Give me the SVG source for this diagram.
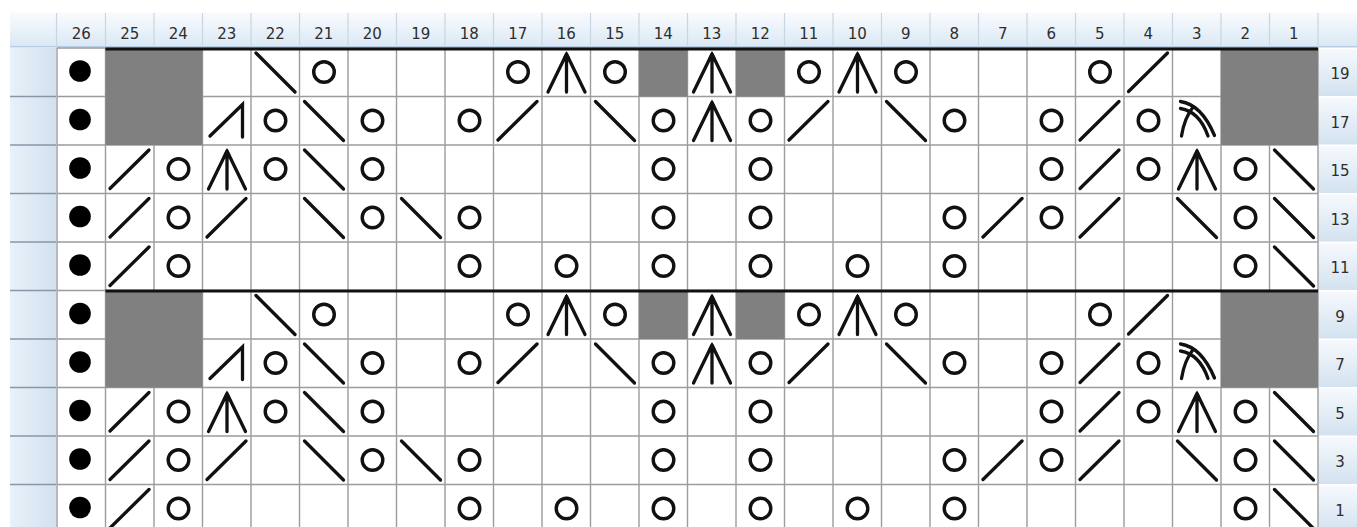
<svg xmlns="http://www.w3.org/2000/svg" xmlns:xlink="http://www.w3.org/1999/xlink" width="1357" height="527" viewBox="0 0 1357 527">
<style>
.grid{stroke:#9c9c9c;stroke-width:1.4;fill:none}
.hsep{stroke:#c9d5e1;stroke-width:1.2}
.lsep{stroke:#8797a8;stroke-width:1.5}
.s{stroke:#111;stroke-width:3.3;stroke-linecap:round;fill:none}
.o{stroke:#111;stroke-width:3.4;fill:none}
.dot{fill:#000}
.gray{fill:#808080}
.thick{stroke:#111;stroke-width:3.2}
.hd{font-family:"DejaVu Sans",sans-serif;font-size:15px;fill:#2e2e2e;text-anchor:middle}
</style>
<defs>
<linearGradient id="hg" x1="0" y1="0" x2="0" y2="1">
<stop offset="0" stop-color="#fafcfe"/><stop offset="1" stop-color="#d9e7f4"/>
</linearGradient>
<linearGradient id="lg" x1="0" y1="0" x2="1" y2="0">
<stop offset="0" stop-color="#e9f1f9"/><stop offset="1" stop-color="#d2e1ef"/>
</linearGradient>
<linearGradient id="rg" x1="0" y1="0" x2="0" y2="1">
<stop offset="0" stop-color="#f6f9fd"/><stop offset="1" stop-color="#d3e2f0"/>
</linearGradient>
<g id="dot"><circle class="dot" cx="23" cy="23" r="10.8"/></g>
<g id="o"><circle class="o" cx="24.5" cy="24" r="10.3"/></g>
<g id="sl"><line class="s" x1="4.5" y1="43.5" x2="43.5" y2="5"/></g>
<g id="bs"><line class="s" x1="5" y1="5" x2="44" y2="44"/></g>
<g id="t3"><path class="s" d="M24.5 6 L6 44 M24.5 6 L24.5 44 M24.5 6 L43 44"/><path d="M24.5 3 L21 10 L28 10 Z" fill="#111"/></g>
<g id="k2"><path class="s" d="M7.5 39.5 L40 8 L40 40.5"/></g>
<g id="arc"><path class="s" d="M8 5 Q29 8 42 39 M8 12 Q27 15 35.5 39.5 M9 39.5 Q12 21 21 10"/></g>
<g id="patA">
<use xlink:href="#dot" x="57"/><use xlink:href="#bs" x="251"/><use xlink:href="#o" x="299.5"/>
<use xlink:href="#o" x="493.5"/><use xlink:href="#t3" x="542"/><use xlink:href="#o" x="590.5"/>
<use xlink:href="#t3" x="687.5"/><use xlink:href="#o" x="784.5"/><use xlink:href="#t3" x="833"/><use xlink:href="#o" x="881.5"/>
<use xlink:href="#o" x="1075.5"/><use xlink:href="#sl" x="1124"/>
</g>
<g id="patB">
<use xlink:href="#dot" x="57"/><use xlink:href="#k2" x="202.5"/><use xlink:href="#o" x="251"/><use xlink:href="#bs" x="299.5"/><use xlink:href="#o" x="348"/>
<use xlink:href="#o" x="445"/><use xlink:href="#sl" x="493.5"/><use xlink:href="#bs" x="590.5"/><use xlink:href="#o" x="639"/>
<use xlink:href="#t3" x="687.5"/><use xlink:href="#o" x="736"/><use xlink:href="#sl" x="784.5"/><use xlink:href="#bs" x="881.5"/>
<use xlink:href="#o" x="930"/><use xlink:href="#o" x="1027"/><use xlink:href="#sl" x="1075.5"/><use xlink:href="#o" x="1124"/><use xlink:href="#arc" x="1172.5"/>
</g>
<g id="patC">
<use xlink:href="#dot" x="57"/><use xlink:href="#sl" x="105.5"/><use xlink:href="#o" x="154"/><use xlink:href="#t3" x="202.5"/><use xlink:href="#o" x="251"/>
<use xlink:href="#bs" x="299.5"/><use xlink:href="#o" x="348"/><use xlink:href="#o" x="639"/><use xlink:href="#o" x="736"/>
<use xlink:href="#o" x="1027"/><use xlink:href="#sl" x="1075.5"/><use xlink:href="#o" x="1124"/><use xlink:href="#t3" x="1172.5"/>
<use xlink:href="#o" x="1221"/><use xlink:href="#bs" x="1269.5"/>
</g>
<g id="patD">
<use xlink:href="#dot" x="57"/><use xlink:href="#sl" x="105.5"/><use xlink:href="#o" x="154"/><use xlink:href="#sl" x="202.5"/>
<use xlink:href="#bs" x="299.5"/><use xlink:href="#o" x="348"/><use xlink:href="#bs" x="396.5"/><use xlink:href="#o" x="445"/>
<use xlink:href="#o" x="639"/><use xlink:href="#o" x="736"/><use xlink:href="#o" x="930"/><use xlink:href="#sl" x="978.5"/>
<use xlink:href="#o" x="1027"/><use xlink:href="#sl" x="1075.5"/><use xlink:href="#bs" x="1172.5"/><use xlink:href="#o" x="1221"/><use xlink:href="#bs" x="1269.5"/>
</g>
<g id="patE">
<use xlink:href="#dot" x="57"/><use xlink:href="#sl" x="105.5"/><use xlink:href="#o" x="154"/><use xlink:href="#o" x="445"/>
<use xlink:href="#o" x="542"/><use xlink:href="#o" x="639"/><use xlink:href="#o" x="736"/><use xlink:href="#o" x="833"/>
<use xlink:href="#o" x="930"/><use xlink:href="#o" x="1221"/><use xlink:href="#bs" x="1269.5"/>
</g>
</defs>
<rect x="0" y="0" width="1357" height="527" fill="#fff"/>
<g id="header">
<rect x="10" y="12" width="1347" height="36" fill="url(#hg)"/>
<line x1="10" y1="46.5" x2="1357" y2="46.5" stroke="#b7cde4" stroke-width="1.2"/>
<g class="hsep">
<line x1="56.5" y1="13" x2="56.5" y2="48"/><line x1="105.5" y1="13" x2="105.5" y2="48"/><line x1="154" y1="13" x2="154" y2="48"/><line x1="202.5" y1="13" x2="202.5" y2="48"/><line x1="251" y1="13" x2="251" y2="48"/><line x1="299.5" y1="13" x2="299.5" y2="48"/><line x1="348" y1="13" x2="348" y2="48"/><line x1="396.5" y1="13" x2="396.5" y2="48"/><line x1="445" y1="13" x2="445" y2="48"/><line x1="493.5" y1="13" x2="493.5" y2="48"/><line x1="542" y1="13" x2="542" y2="48"/><line x1="590.5" y1="13" x2="590.5" y2="48"/><line x1="639" y1="13" x2="639" y2="48"/><line x1="687.5" y1="13" x2="687.5" y2="48"/><line x1="736" y1="13" x2="736" y2="48"/><line x1="784.5" y1="13" x2="784.5" y2="48"/><line x1="833" y1="13" x2="833" y2="48"/><line x1="881.5" y1="13" x2="881.5" y2="48"/><line x1="930" y1="13" x2="930" y2="48"/><line x1="978.5" y1="13" x2="978.5" y2="48"/><line x1="1027" y1="13" x2="1027" y2="48"/><line x1="1075.5" y1="13" x2="1075.5" y2="48"/><line x1="1124" y1="13" x2="1124" y2="48"/><line x1="1172.5" y1="13" x2="1172.5" y2="48"/><line x1="1221" y1="13" x2="1221" y2="48"/><line x1="1269.5" y1="13" x2="1269.5" y2="48"/><line x1="1318" y1="13" x2="1318" y2="48"/>
</g>
<g class="hd">
<text x="81.25" y="39">26</text><text x="129.75" y="39">25</text><text x="178.25" y="39">24</text><text x="226.75" y="39">23</text><text x="275.25" y="39">22</text><text x="323.75" y="39">21</text><text x="372.25" y="39">20</text><text x="420.75" y="39">19</text><text x="469.25" y="39">18</text><text x="517.75" y="39">17</text><text x="566.25" y="39">16</text><text x="614.75" y="39">15</text><text x="663.25" y="39">14</text><text x="711.75" y="39">13</text><text x="760.25" y="39">12</text><text x="808.75" y="39">11</text><text x="857.25" y="39">10</text><text x="905.75" y="39">9</text><text x="954.25" y="39">8</text><text x="1002.75" y="39">7</text><text x="1051.25" y="39">6</text><text x="1099.75" y="39">5</text><text x="1148.25" y="39">4</text><text x="1196.75" y="39">3</text><text x="1245.25" y="39">2</text><text x="1293.75" y="39">1</text>
</g>
</g>
<g id="left-column">
<rect x="10" y="48" width="46" height="479" fill="url(#lg)"/>
<g class="lsep">
<line x1="10" y1="96.5" x2="56" y2="96.5"/><line x1="10" y1="145" x2="56" y2="145"/><line x1="10" y1="193.5" x2="56" y2="193.5"/><line x1="10" y1="242" x2="56" y2="242"/><line x1="10" y1="290.5" x2="56" y2="290.5"/><line x1="10" y1="339" x2="56" y2="339"/><line x1="10" y1="387.5" x2="56" y2="387.5"/><line x1="10" y1="436" x2="56" y2="436"/><line x1="10" y1="484.5" x2="56" y2="484.5"/>
</g>
</g>
<g id="right-column">
<rect x="1318.5" y="49" width="39" height="47" fill="url(#rg)"/>
<rect x="1318.5" y="97.5" width="39" height="47" fill="url(#rg)"/>
<rect x="1318.5" y="146" width="39" height="47" fill="url(#rg)"/>
<rect x="1318.5" y="194.5" width="39" height="47" fill="url(#rg)"/>
<rect x="1318.5" y="243" width="39" height="47" fill="url(#rg)"/>
<rect x="1318.5" y="291.5" width="39" height="47" fill="url(#rg)"/>
<rect x="1318.5" y="340" width="39" height="47" fill="url(#rg)"/>
<rect x="1318.5" y="388.5" width="39" height="47" fill="url(#rg)"/>
<rect x="1318.5" y="437" width="39" height="47" fill="url(#rg)"/>
<rect x="1318.5" y="485.5" width="39" height="47" fill="url(#rg)"/>
<g class="hd">
<text x="1340" y="79">19</text><text x="1340" y="127.5">17</text><text x="1340" y="176">15</text><text x="1340" y="224.5">13</text><text x="1340" y="273">11</text><text x="1340" y="321.5">9</text><text x="1340" y="370">7</text><text x="1340" y="418.5">5</text><text x="1340" y="467">3</text><text x="1340" y="515.5">1</text>
</g>
</g>
<g id="grid" class="grid">
<path d="M57 48V527M105.5 48V527M154 48V527M202.5 48V527M251 48V527M299.5 48V527M348 48V527M396.5 48V527M445 48V527M493.5 48V527M542 48V527M590.5 48V527M639 48V527M687.5 48V527M736 48V527M784.5 48V527M833 48V527M881.5 48V527M930 48V527M978.5 48V527M1027 48V527M1075.5 48V527M1124 48V527M1172.5 48V527M1221 48V527M1269.5 48V527M1318 48V527"/>
<path d="M57 48H1318M57 96.5H1318M57 145H1318M57 193.5H1318M57 242H1318M57 290.5H1318M57 339H1318M57 387.5H1318M57 436H1318M57 484.5H1318"/>
</g>
<g id="shaded">
<rect class="gray" x="105.5" y="48" width="97" height="97"/>
<rect class="gray" x="639" y="48" width="48.5" height="48.5"/>
<rect class="gray" x="736" y="48" width="48.5" height="48.5"/>
<rect class="gray" x="1221" y="48" width="97" height="97"/>
<rect class="gray" x="105.5" y="290.5" width="97" height="97"/>
<rect class="gray" x="639" y="290.5" width="48.5" height="48.5"/>
<rect class="gray" x="736" y="290.5" width="48.5" height="48.5"/>
<rect class="gray" x="1221" y="290.5" width="97" height="97"/>
</g>
<g id="thick-lines" class="thick">
<line x1="105.5" y1="49" x2="1318" y2="49"/>
<line x1="105.5" y1="291" x2="1318" y2="291"/>
</g>
<g id="row-19"><use xlink:href="#patA" y="48"/></g>
<g id="row-17"><use xlink:href="#patB" y="96.5"/></g>
<g id="row-15"><use xlink:href="#patC" y="145"/></g>
<g id="row-13"><use xlink:href="#patD" y="193.5"/></g>
<g id="row-11"><use xlink:href="#patE" y="242"/></g>
<g id="row-9"><use xlink:href="#patA" y="290.5"/></g>
<g id="row-7"><use xlink:href="#patB" y="339"/></g>
<g id="row-5"><use xlink:href="#patC" y="387.5"/></g>
<g id="row-3"><use xlink:href="#patD" y="436"/></g>
<g id="row-1"><use xlink:href="#patE" y="484.5"/></g>
</svg>
